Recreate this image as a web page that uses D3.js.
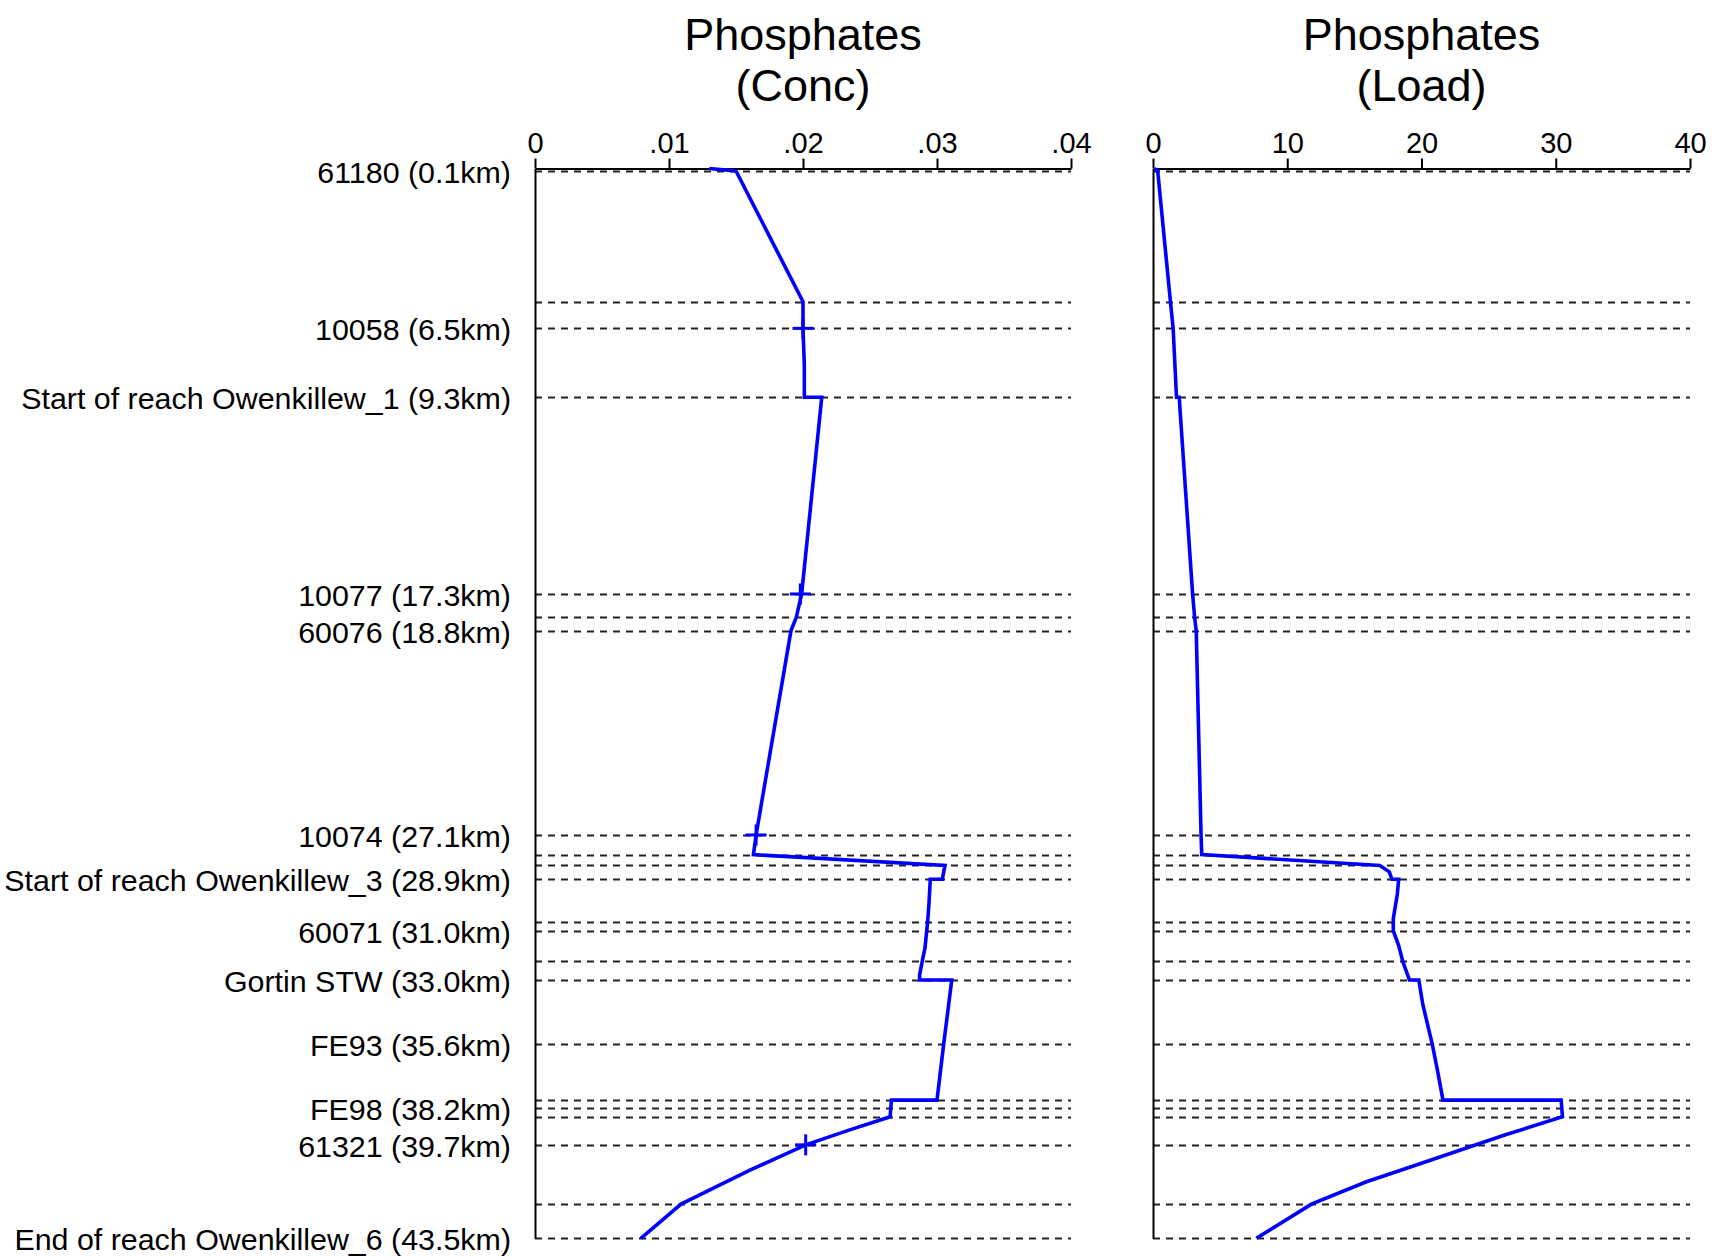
<!DOCTYPE html>
<html>
<head>
<meta charset="utf-8">
<script src="https://cdn.jsdelivr.net/npm/d3@7"></script>
<style>
    body { margin: 0; background: #fff; }
    text { font-family: "Liberation Sans", Arial, sans-serif; fill: #000; }
</style>
</head>
<body>
<div id="chart-container"></div>
<script>
var width = 1712,
    height = 1257;

// ******* data ********* //
// reach stations (labelled) on the distance axis
var stationNames = ["61180 (0.1km)", "10058 (6.5km)", "Start of reach Owenkillew_1 (9.3km)",
    "10077 (17.3km)", "60076 (18.8km)", "10074 (27.1km)", "Start of reach Owenkillew_3 (28.9km)",
    "60071 (31.0km)", "Gortin STW (33.0km)", "FE93 (35.6km)", "FE98 (38.2km)",
    "61321 (39.7km)", "End of reach Owenkillew_6 (43.5km)"];
var stationKm = [0.1, 6.5, 9.3, 17.3, 18.8, 27.1, 28.9, 31.0, 33.0, 35.6, 38.2, 39.7, 43.5];

// every feature line (dashed), labelled or not
var featureKm = [0.1, 5.42, 6.5, 9.3, 17.3, 18.25, 18.8, 27.1, 27.9, 28.34, 28.9, 30.64,
    31.0, 32.23, 33.0, 35.6, 37.88, 38.2, 38.56, 39.7, 42.11, 43.5];

// concentration profile
var concKm  = [0, 0.1, 5.42, 6.5, 8.0, 9.3, 9.3, 17.3, 18.25, 18.8, 27.1, 27.9, 28.34,
    28.6, 28.9, 28.9, 29.9, 30.64, 31.7, 32.23, 32.8, 33.0, 33.0, 35.6, 37.88, 37.88,
    38.56, 39.07, 39.7, 40.74, 42.11, 43.5];
var concVal = [0.0130, 0.0150, 0.0200, 0.0200, 0.0201, 0.0201, 0.0214, 0.0199, 0.0195,
    0.0191, 0.0165, 0.0163, 0.0306, 0.0305, 0.0304, 0.0295, 0.0294, 0.0293, 0.0291,
    0.0289, 0.0287, 0.0287, 0.0311, 0.0305, 0.0300, 0.0266, 0.0265, 0.0236, 0.0202,
    0.0160, 0.0109, 0.0079];

// observed samples (crosses)
var obsKm   = [6.5, 17.3, 27.1, 39.7];
var obsConc = [0.0200, 0.0198, 0.0165, 0.0202];

// load profile
var loadKm  = [0, 0.1, 5.42, 6.5, 9.3, 9.3, 17.3, 18.25, 18.8, 27.1, 27.9, 28.34, 28.6,
    28.9, 28.9, 29.5, 30.5, 31.0, 31.6, 32.23, 33.0, 33.0, 34.0, 35.6, 36.7, 37.88,
    37.88, 38.56, 39.3, 39.93, 40.74, 41.2, 42.11, 43.5];
var loadVal = [0.1, 0.35, 1.30, 1.50, 1.75, 1.95, 2.95, 3.10, 3.22, 3.58, 3.63, 16.9, 17.6,
    17.8, 18.3, 18.2, 17.9, 17.9, 18.3, 18.6, 19.1, 19.8, 20.1, 20.8, 21.2, 21.6,
    30.4, 30.5, 26.2, 22.8, 18.4, 15.9, 11.8, 7.7];

var concTicks = [0, 0.01, 0.02, 0.03, 0.04],
    concTickLabels = ["0", ".01", ".02", ".03", ".04"];
var loadTicks = [0, 10, 20, 30, 40],
    loadTickLabels = ["0", "10", "20", "30", "40"];

var svg = d3.select("#chart-container")
    .append("svg")
    .attr("width", width)
    .attr("height", height);

svg.append("rect").attr("width", width).attr("height", height).attr("fill", "#fff");

// ******* scales ********* //
var y = d3.scaleLinear().domain([0, 43.5]).range([168.5, 1238.3]);
var xConc = d3.scaleLinear().domain([0, 0.04]).range([535, 1071]);
var xLoad = d3.scaleLinear().domain([0, 40]).range([1153, 1690]);

// ******* station labels ********* //
svg.append("g")
    .attr("class", "stations")
    .selectAll("text")
    .data(stationNames)
    .enter().append("text")
    .attr("x", 511)
    .attr("y", function(d, i) { return y(stationKm[i]) + 12; })
    .attr("text-anchor", "end")
    .style("font-size", "30.4px")
    .text(function(d) { return d; });

function drawPanel(x, ticks, tickLabels, title, km, vals) {
    var g = svg.append("g");
    var cx = (x.range()[0] + x.range()[1]) / 2;

    // title
    var t = g.append("text")
        .attr("text-anchor", "middle")
        .style("font-size", "45px");
    t.append("tspan").attr("x", cx).attr("y", 50).text("Phosphates");
    t.append("tspan").attr("x", cx).attr("y", 101).text(title);

    // dashed feature lines
    g.append("g")
        .selectAll("line")
        .data(featureKm)
        .enter().append("line")
        .attr("x1", x.range()[0])
        .attr("x2", x.range()[1])
        .attr("y1", function(d) { return Math.round(y(d)) + 0.5; })
        .attr("y2", function(d) { return Math.round(y(d)) + 0.5; })
        .attr("stroke", "#222")
        .attr("stroke-width", 2)
        .attr("stroke-dasharray", "7,6");

    // top axis
    var top = g.append("g")
        .attr("transform", "translate(0," + y(0) + ")")
        .call(d3.axisTop(x)
            .tickValues(ticks)
            .tickFormat(function(d, i) { return tickLabels[i]; })
            .tickSize(10)
            .tickSizeOuter(0)
            .tickPadding(5.5));
    top.selectAll("path, line").attr("stroke", "#000").attr("stroke-width", 2);
    top.selectAll("text")
        .style("font-family", "'Liberation Sans', Arial, sans-serif")
        .style("font-size", "29px")
        .attr("fill", "#000");

    // left axis line
    var left = g.append("g")
        .attr("transform", "translate(" + x.range()[0] + ",0)")
        .call(d3.axisLeft(y).tickValues([]).tickSizeOuter(0));
    left.select("path").attr("stroke", "#000").attr("stroke-width", 2);

    // profile
    var line = d3.line()
        .x(function(d) { return x(vals[d]); })
        .y(function(d) { return y(km[d]); });
    g.append("path")
        .datum(d3.range(km.length))
        .attr("fill", "none")
        .attr("stroke", "#0000ff")
        .attr("stroke-width", 3.6)
        .attr("stroke-linejoin", "miter")
        .attr("d", line);

    return g;
}

var concPanel = drawPanel(xConc, concTicks, concTickLabels, "(Conc)", concKm, concVal);
drawPanel(xLoad, loadTicks, loadTickLabels, "(Load)", loadKm, loadVal);

// ******* observed crosses ********* //
var cross = concPanel.append("g")
    .selectAll("g")
    .data(obsKm)
    .enter().append("g");
cross.append("line")
    .attr("x1", function(d, i) { return xConc(obsConc[i]) - 10.5; })
    .attr("x2", function(d, i) { return xConc(obsConc[i]) + 10.5; })
    .attr("y1", function(d) { return y(d); })
    .attr("y2", function(d) { return y(d); });
cross.append("line")
    .attr("x1", function(d, i) { return xConc(obsConc[i]); })
    .attr("x2", function(d, i) { return xConc(obsConc[i]); })
    .attr("y1", function(d) { return y(d) - 10.5; })
    .attr("y2", function(d) { return y(d) + 10.5; });
cross.selectAll("line")
    .attr("stroke", "#0000ff")
    .attr("stroke-width", 3);
</script>
</body>
</html>
